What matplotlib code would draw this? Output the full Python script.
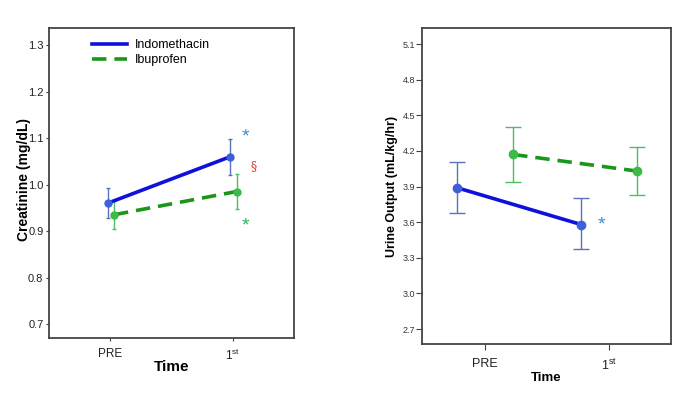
import matplotlib
matplotlib.use("Agg")
import matplotlib.pyplot as plt
from matplotlib.lines import Line2D
import numpy as np

plt.rcParams['font.family'] = ['Liberation Sans', 'DejaVu Sans']
plt.rcParams['mathtext.fontset'] = 'custom'
plt.rcParams['mathtext.rm'] = 'Liberation Sans'

timeLabels = ["PRE", r"1$^{\mathrm{st}}$"]
seriesNames = ["Indomethacin", "Ibuprofen"]

# creatinine (mg/dL)
creatMean = {"Indomethacin": [0.960, 1.060], "Ibuprofen": [0.935, 0.985]}
creatLow = {"Indomethacin": [0.929, 1.021], "Ibuprofen": [0.905, 0.948]}
creatHigh = {"Indomethacin": [0.993, 1.098], "Ibuprofen": [0.965, 1.022]}
creatTicks = [0.7, 0.8, 0.9, 1.0, 1.1, 1.2, 1.3]

# urine output (mL/kg/hr)
urineMean = {"Indomethacin": [3.89, 3.58], "Ibuprofen": [4.17, 4.03]}
urineLow = {"Indomethacin": [3.68, 3.37], "Ibuprofen": [3.94, 3.83]}
urineHigh = {"Indomethacin": [4.11, 3.80], "Ibuprofen": [4.40, 4.23]}
urineTicks = [2.7, 3.0, 3.3, 3.6, 3.9, 4.2, 4.5, 4.8, 5.1]

lineColor = {"Indomethacin": "#1010dd", "Ibuprofen": "#1a961a"}
markColor = {"Indomethacin": "#3f5fd8", "Ibuprofen": "#3cba4a"}
errColor = {"Indomethacin": "#5a72b8", "Ibuprofen": "#4cc05a"}
lineStyle = {"Indomethacin": "-", "Ibuprofen": (0, (4, 2.2))}

fig = plt.figure(figsize=(6.85, 4), dpi=100)

# %% left panel
ax1 = fig.add_axes([0.0715, 0.155, 0.358, 0.775])
x = np.arange(len(timeLabels))
offs1 = {"Indomethacin": -0.02, "Ibuprofen": 0.03}
for name in seriesNames:
    xs = x + offs1[name]
    m = np.array(creatMean[name])
    ax1.errorbar(xs, m, yerr=[m - np.array(creatLow[name]), np.array(creatHigh[name]) - m],
                 fmt='none', ecolor=errColor[name], elinewidth=1.0, capsize=1.5, capthick=1.0, zorder=2)
    ax1.plot(xs, m, color=lineColor[name], linestyle=lineStyle[name], lw=2.6, zorder=3)
    ax1.plot(xs, m, 'o', color=markColor[name], ms=5, zorder=4)
ax1.set_xlim(-0.5, 1.5)
ax1.set_ylim(0.67, 1.3366)
ax1.set_yticks(creatTicks)
ax1.set_yticklabels(["%.1f" % t for t in creatTicks], fontsize=8, color="#222222")
ax1.set_xticks(x)
ax1.set_xticklabels(timeLabels, fontsize=8.5, color="#222222")
ax1.tick_params(axis='y', length=2.5, width=0.8, color="#444444", pad=1.5)
ax1.tick_params(axis='x', length=2.5, width=0.8, color="#444444", pad=4.5)
ax1.set_xlabel("Time", fontsize=11, fontweight='bold', labelpad=-2.3)
ax1.set_ylabel("Creatinine (mg/dL)", fontsize=10, fontweight='bold')
ax1.yaxis.set_label_coords(-0.072, 0.51)
for sp in ax1.spines.values():
    sp.set_color("#444444")
    sp.set_linewidth(1.3)
ax1.text(1.1, 1.103, "*", color="#3a8fd0", fontsize=14, ha='center', va='center')
ax1.text(1.17, 1.038, "\u00a7", color="#e03030", fontsize=9, ha='center', va='center', family='DejaVu Serif')
ax1.text(1.1, 0.91, "*", color="#2cb35a", fontsize=14, ha='center', va='center')

handles = [Line2D([0], [0], color=lineColor[n], linestyle=lineStyle[n], lw=2.6) for n in seriesNames]
ax1.legend(handles, seriesNames, loc='upper left', bbox_to_anchor=(0.13, 1.0), frameon=False,
           fontsize=9, handlelength=2.8, handletextpad=0.6, labelspacing=0.25)

# %% right panel
ax2 = fig.add_axes([0.616, 0.14, 0.364, 0.79])
offs2 = {"Indomethacin": -0.226, "Ibuprofen": 0.226}
for name in seriesNames:
    xs = x + offs2[name]
    m = np.array(urineMean[name])
    ax2.errorbar(xs, m, yerr=[m - np.array(urineLow[name]), np.array(urineHigh[name]) - m],
                 fmt='none', ecolor=errColor[name], elinewidth=1.0, capsize=6, capthick=1.0, zorder=2)
    ax2.plot(xs, m, color=lineColor[name], linestyle=lineStyle[name], lw=2.6, zorder=3)
    ax2.plot(xs, m, 'o', color=markColor[name], ms=6, zorder=4)
ax2.set_xlim(-0.508, 1.5)
ax2.set_ylim(2.574, 5.235)
ax2.set_yticks(urineTicks)
ax2.set_yticklabels(["%.1f" % t for t in urineTicks], fontsize=6.5, color="#333333")
ax2.set_xticks(x)
ax2.set_xticklabels(timeLabels, fontsize=9, color="#222222")
ax2.tick_params(axis='y', length=4, width=0.8, color="#444444", pad=1)
ax2.tick_params(axis='x', length=4, width=0.8, color="#444444", pad=6)
ax2.set_xlabel("Time", fontsize=9.5, fontweight='bold', labelpad=-0.5)
ax2.set_ylabel("Urine Output (mL/kg/hr)", fontsize=9, fontweight='bold', labelpad=3)
for sp in ax2.spines.values():
    sp.set_color("#444444")
    sp.set_linewidth(1.3)
ax2.text(0.94, 3.58, "*", color="#3a8fd0", fontsize=14, ha='center', va='center')

fig.savefig("out.png", dpi=100)
